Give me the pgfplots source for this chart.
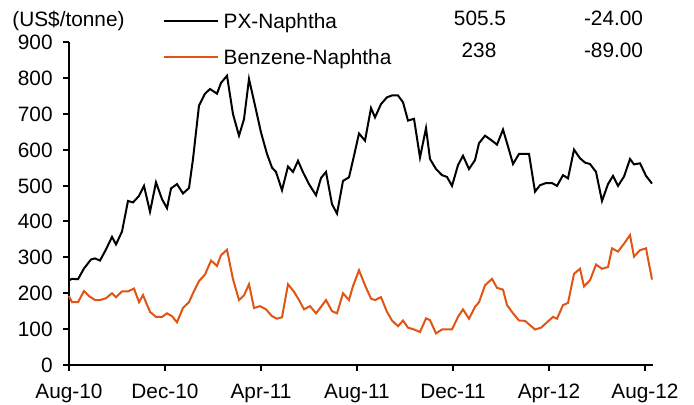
\documentclass[border=0pt]{standalone}
\usepackage{fontspec}
\setmainfont{Liberation Sans}
\usepackage{pgfplots}
\pgfplotsset{compat=1.18}
\definecolor{bzorange}{RGB}{225,85,20}
\newcommand{\fs}{\fontsize{10.4}{12}\selectfont}
\begin{document}
\begin{tikzpicture}
\path[use as bounding box] (-34.5pt,-20pt) rectangle (312.5pt,182.5pt);
\begin{axis}[
 at={(0,0)}, anchor=south west,
 scale only axis, width=292pt, height=161.5pt,
 xmin=69, xmax=653, ymin=0, ymax=900,
 axis x line*=bottom, axis y line*=left,
 axis line style={line width=1pt, -},
 xtick={69,165,261,357,453,549,645},
 xticklabels={Aug-10,Dec-10,Apr-11,Aug-11,Dec-11,Apr-12,Aug-12},
 ytick={0,100,...,900},
 tick align=outside, major tick length=3pt,
 tick style={line width=1pt, black},
 /pgf/number format/assume math mode=true,
 tick label style={font=\fs, inner sep=0pt, text height=7.5pt, text depth=0pt},
 yticklabel style={anchor=east, xshift=-5pt},
 xticklabel style={anchor=north, yshift=-6pt},
 clip=false,
 legend style={at={(axis description cs:0.1604,1.0882)}, anchor=north west, draw=none, fill=none, inner sep=0pt, outer sep=0pt, row sep=10.5pt, font=\fs, nodes={inner sep=0pt, text height=7.5pt, text depth=0pt}, /tikz/every odd column/.append style={column sep=2.5pt}},
 legend cell align=left,
 legend image code/.code={\draw[#1] (0pt,0pt) -- (27pt,0pt);},
]
\addplot[black, line width=1pt] coordinates {
(69,236)(72,240)(78,239)(84,269)(91,294)(95,297)(100,291)(106,322)(112,357)(116,336)
(122,372)(128,457)(133,453)(139,471)(144,499)(150,427)(156,509)(162,462)(167,437)(171,492)
(177,504)(183,478)(189,493)(193,574)(199,723)(205,756)(210,769)(217,756)(221,786)(227,806)
(233,699)(239,639)(244,685)(249,797)(255,723)(261,648)(267,588)(272,550)(276,538)(282,487)
(288,553)(293,538)(298,569)(303,537)(309,504)(316,473)(321,521)(326,538)(332,448)(337,422)
(343,513)(349,523)(354,583)(359,645)(365,625)(371,716)(375,690)(381,727)(387,746)(392,751)
(398,751)(403,732)(408,681)(414,686)(420,578)(426,660)(430,574)(436,546)(442,529)(447,524)
(452,499)(458,557)(463,583)(469,546)(475,571)(479,618)(485,639)(492,625)(497,614)(503,656)
(508,609)(513,560)(519,588)(524,588)(529,588)(535,483)(540,501)(546,507)(552,507)(557,499)
(563,529)(568,520)(574,600)(580,576)(585,564)(590,560)(596,538)(602,457)(608,504)(613,527)
(618,499)(624,525)(630,574)(634,559)(640,562)(646,527)(652,505.5)
};
\addlegendentry{PX-Naphtha}
\addplot[bzorange, line width=1pt] coordinates {
(69,192)(72,175)(78,175)(84,206)(89,192)(95,181)(100,181)(106,186)(112,200)(116,189)
(122,205)(128,205)(134,213)(139,175)(143,195)(150,148)(156,134)(162,134)(167,144)(172,136)
(177,119)(183,159)(189,175)(194,206)(199,234)(205,252)(211,291)(217,276)(221,306)(227,321)
(233,239)(239,181)(244,194)(249,225)(254,159)(260,164)(266,155)(272,136)(277,129)(282,133)
(288,225)(294,204)(299,181)(304,155)(310,164)(316,144)(321,162)(326,181)(332,150)(337,144)
(343,200)(349,181)(353,220)(359,264)(365,222)(371,185)(375,181)(381,189)(387,148)(392,124)
(398,108)(403,124)(408,104)(414,99)(420,92)(426,130)(430,125)(436,88)(442,99)(447,99)
(452,99)(458,134)(463,155)(469,129)(475,162)(479,175)(485,222)(492,240)(497,215)(503,210)
(507,167)(513,144)(519,124)(525,123)(530,111)(535,99)(541,104)(547,119)(553,134)(557,129)
(563,167)(568,173)(574,254)(580,268)(584,219)(590,236)(596,280)(602,268)(608,273)(612,325)
(618,316)(624,338)(630,362)(634,302)(640,320)(646,325)(652,238)
};
\addlegendentry{Benzene-Naphtha}
\end{axis}
\begin{scope}[every node/.style={font=\fs, inner sep=0pt, text height=7.5pt, text depth=0pt}]
\node[anchor=west] at (-28.5pt,172.75pt) {(US\$/tonne)};
\node at (205.5pt,173.25pt) {505.5};
\node at (272.25pt,173.25pt) {-24.00};
\node at (205pt,157.25pt) {238};
\node at (272.25pt,157.25pt) {-89.00};
\end{scope}
\end{tikzpicture}
\end{document}
